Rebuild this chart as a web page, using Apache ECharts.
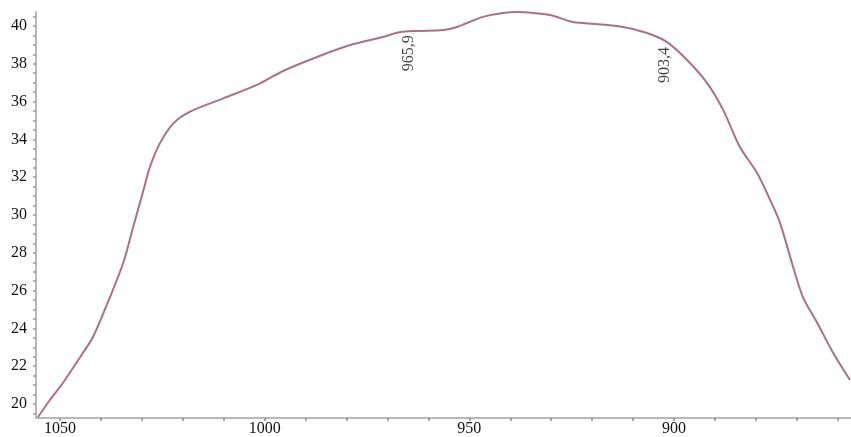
<!DOCTYPE html>
<html>
<head>
<meta charset="utf-8">
<script src="https://cdn.jsdelivr.net/npm/echarts@6/dist/echarts.min.js"></script>
<style>
html,body{margin:0;padding:0;background:#fff;}
#chart{width:851px;height:437px;}
</style>
</head>
<body>
<div id="chart"></div>
<script>
// Wavelength (x, reversed axis) and measured value (y)
var wavelength = [1055.4, 1052.5, 1049.3, 1044.4, 1041.9, 1037.8, 1034.5, 1032.1, 1029.6, 1028.0, 1025.6, 1022.3, 1018.2, 1010.1, 1001.9, 995.5, 987.2, 979.1, 971.1, 966.9, 962.8, 956.4, 953.0, 946.7, 941.8, 938.0, 934.4, 930.3, 924.7, 922.2, 912.4, 906.6, 901.7, 896.8, 891.9, 888.0, 883.9, 879.7, 876.5, 874.1, 870.9, 868.5, 865.0, 861.1, 857.0];
var signal = [19.3, 20.2, 21.11, 22.70, 23.56, 25.65, 27.5, 29.38, 31.32, 32.56, 33.79, 34.85, 35.47, 36.17, 36.88, 37.62, 38.36, 38.99, 39.42, 39.68, 39.74, 39.79, 39.95, 40.48, 40.69, 40.74, 40.69, 40.58, 40.21, 40.16, 39.95, 39.63, 39.15, 38.20, 36.98, 35.56, 33.60, 32.22, 30.79, 29.58, 27.25, 25.66, 24.29, 22.70, 21.27];
// Annotated wavelengths and the curve value at them
var markX = [965.9, 903.4];
var markY = [39.72, 39.1];
// Tick labels and tick marks
var xTicks = [1050, 1000, 950, 900];
var xTickMarks = [1050, 1040, 1030, 1020, 1010, 1000, 990, 980, 970, 960, 950, 940, 930, 920, 910, 900, 890, 880, 870, 860];
var yTicks = [20, 22, 24, 26, 28, 30, 32, 34, 36, 38, 40];
var yTickMarks = [19.5, 20, 20.5, 21, 21.5, 22, 22.5, 23, 23.5, 24, 24.5, 25, 25.5, 26, 26.5, 27, 27.5, 28, 28.5, 29, 29.5, 30, 30.5, 31, 31.5, 32, 32.5, 33, 33.5, 34, 34.5, 35, 35.5, 36, 36.5, 37, 37.5, 38, 38.5, 39, 39.5, 40, 40.5];

var lineData = wavelength.map(function (w, i) { return [w, signal[i]]; });
var markData = markX.map(function (w, i) { return [w, markY[i]]; });

var font = '"Liberation Serif", "DejaVu Serif", serif';
var chart = echarts.init(document.getElementById('chart'), null, {renderer: 'canvas'});
chart.setOption({
  animation: false,
  backgroundColor: '#ffffff',
  grid: {left: 36, right: 0, top: 12, bottom: 19, containLabel: false},
  xAxis: {
    type: 'value',
    inverse: true,
    min: 856.76,
    max: 1055.86,
    splitLine: {show: false},
    axisLine: {show: true, lineStyle: {color: '#b8b8b8', width: 2}},
    axisTick: {show: true, length: 3, customValues: xTickMarks, lineStyle: {color: '#8a8a8a', width: 1.5}},
    minorTick: {show: false},
    axisLabel: {
      color: '#111', fontFamily: font, fontSize: 16, margin: 3,
      customValues: xTicks,
      formatter: function (v) { return String(v); }
    }
  },
  yAxis: {
    type: 'value',
    min: 19.26,
    max: 40.74,
    splitLine: {show: false},
    axisLine: {show: true, lineStyle: {color: '#b8b8b8', width: 2}},
    axisTick: {show: true, length: 3, customValues: yTickMarks, lineStyle: {color: '#9a9a9a', width: 1.5}},
    minorTick: {show: false},
    axisLabel: {
      color: '#111', fontFamily: font, fontSize: 16, margin: 9,
      customValues: yTicks,
      formatter: function (v) { return String(v); }
    }
  },
  series: [
    {
      type: 'line',
      data: lineData,
      smooth: 0.3,
      showSymbol: false,
      lineStyle: {color: '#aa7280', width: 2},
      z: 3
    },
    {
      type: 'scatter',
      data: markData,
      symbolSize: 0,
      label: {
        show: true,
        position: [0, 0],
        rotate: 90,
        align: 'right',
        verticalAlign: 'middle',
        offset: [-4, 5],
        color: '#111',
        fontFamily: font,
        fontSize: 16,
        formatter: function (p) { return String(p.value[0]).replace('.', ','); }
      },
      z: 4
    }
  ]
});
</script>
</body>
</html>
